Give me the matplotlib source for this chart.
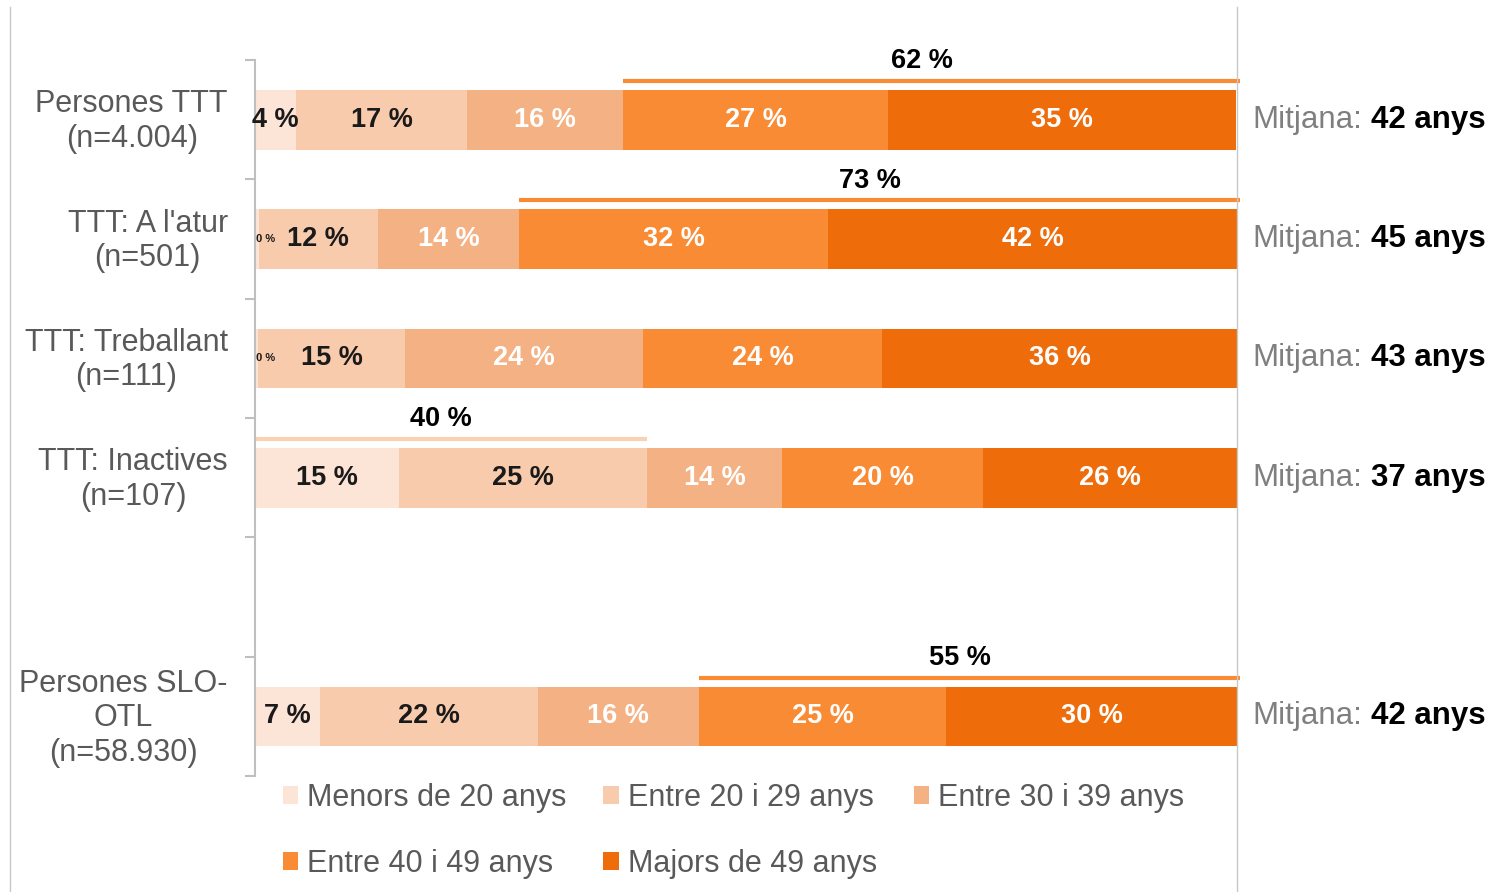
import matplotlib.pyplot as plt
import matplotlib.lines as mlines
import matplotlib.transforms as mtransforms
import numpy as np

plt.rcParams['font.family'] = ['Liberation Sans', 'DejaVu Sans']

# dades llegides del gràfic (la fila buida separa TTT de SLO-OTL)
categories = ["Persones TTT\n(n=4.004)", "TTT: A l'atur\n(n=501)", "TTT: Treballant\n(n=111)",
              "TTT: Inactives\n(n=107)", "", "Persones SLO-\nOTL\n(n=58.930)"]
series = ["Menors de 20 anys", "Entre 20 i 29 anys", "Entre 30 i 39 anys",
          "Entre 40 i 49 anys", "Majors de 49 anys"]
menors20 = [4.2, 0.4, 0.3, 14.7, 0, 6.6]
entre20_29 = [17.4, 12.1, 15.0, 25.2, 0, 22.2]
entre30_39 = [15.9, 14.4, 24.2, 13.8, 0, 16.4]
entre40_49 = [27.0, 31.5, 24.4, 20.4, 0, 25.2]
majors49 = [35.4, 41.6, 36.1, 25.9, 0, 29.6]
mitjana = [42, 45, 43, 37, None, 42]

# grups marcats amb la línia de sobre: fila, primer i últim segment
grup_fila = [0, 1, 3, 5]
grup_desde = [3, 3, 0, 3]
grup_fins = [4, 4, 1, 4]

valors = [menors20, entre20_29, entre30_39, entre40_49, majors49]
colors = ['#FCE4D6', '#F8CBAD', '#F4B183', '#F98B35', '#EE6C0A']
text_colors = ['#1a1a1a', '#1a1a1a', 'white', 'white', 'white']
grup_colors = ['#F98B35', '#F98B35', '#F9D2B4', '#F98B35']
gris = '#595959'

W, H = 1494, 892
fig = plt.figure(figsize=(W / 100, H / 100), dpi=100)
ax = fig.add_axes([255 / W, 1 - 776 / H, 982 / W, 716 / H])

y = np.arange(len(categories))
left = np.zeros(len(categories))
lefts = []
handles = []
for k, vals in enumerate(valors):
    vals = np.array(vals, dtype=float)
    b = ax.barh(y, vals, left=left, height=0.5, color=colors[k], label=series[k])
    handles.append(b)
    for i in range(len(y)):
        v = vals[i]
        if v == 0:
            continue
        if v < 1:
            ax.text(left[i] + 0.1, y[i], '%d %%' % round(v), ha='left', va='center',
                    fontsize=8, fontweight='bold', color=text_colors[k])
        else:
            ax.text(left[i] + v / 2, y[i], '%d %%' % round(v), ha='center', va='center',
                    fontsize=19.5, fontweight='bold', color=text_colors[k])
    lefts.append(left.copy())
    left = left + vals

# línies de grup amb el total
for g in range(len(grup_fila)):
    r = grup_fila[g]
    x0 = lefts[grup_desde[g]][r]
    tot = sum(valors[k][r] for k in range(grup_desde[g], grup_fins[g] + 1))
    x1 = x0 + tot
    if grup_fins[g] == len(valors) - 1:
        x1 = 100.3
    ax.plot([x0, x1], [r - 0.325, r - 0.325], color=grup_colors[g], lw=3,
            solid_capstyle='butt', clip_on=False)
    ax.text((x0 + x1) / 2 - 1, r - 0.49, '%d %%' % round(tot), ha='center', va='center',
            fontsize=19.5, fontweight='bold', color='black')

# mitjanes a la dreta
for i in range(len(y)):
    if mitjana[i] is None:
        continue
    t = ax.text(101.6, y[i], 'Mitjana:', ha='left', va='center', fontsize=22.5, color='#7f7f7f')
    ax.annotate('%d anys' % mitjana[i], xy=(1, 0), xycoords=t, xytext=(6, 0),
                textcoords='offset points', ha='left', va='bottom',
                fontsize=22.5, fontweight='bold', color='black')

ax.set_xlim(0, 100)
ax.set_ylim(len(categories) - 0.5, -0.5)
ax.set_yticks(np.arange(-0.5, len(categories)), labels=[''] * (len(categories) + 1))
ax.set_yticks(y, labels=categories, minor=True)
ax.tick_params(axis='y', which='major', length=7.2, width=1.5, color='#BFBFBF')
ax.tick_params(axis='y', which='minor', length=0, pad=19.5, labelsize=22, labelcolor=gris)
amunt = mtransforms.ScaledTranslation(0, 4 / 100, fig.dpi_scale_trans)
for lab in ax.get_yticklabels(minor=True):
    lab.set_multialignment('center')
    lab.set_transform(lab.get_transform() + amunt)
ax.xaxis.set_visible(False)
for s in ['top', 'right', 'bottom']:
    ax.spines[s].set_visible(False)
ax.spines['left'].set_color('#BFBFBF')
ax.spines['left'].set_linewidth(1.5)

# vores verticals del requadre
fig.add_artist(mlines.Line2D([10 / W, 10 / W], [0, 1 - 7 / H], color='#C8C8C8', lw=1))
fig.add_artist(mlines.Line2D([1237 / W, 1237 / W], [0, 1 - 7 / H], color='#C8C8C8', lw=1))

# llegenda per files (ordre reorganitzat per les columnes)
ordre = [0, 3, 1, 4, 2]
fig.legend([handles[i] for i in ordre], [series[i] for i in ordre],
           loc='upper left', bbox_to_anchor=(283 / W, 1 - 783 / H), ncol=3,
           frameon=False, fontsize=22, labelcolor=gris, borderpad=0, borderaxespad=0,
           handlelength=0.5, handleheight=0.5, handletextpad=0.3,
           columnspacing=1.2, labelspacing=1.17)

fig.savefig('out.png', dpi=100)
